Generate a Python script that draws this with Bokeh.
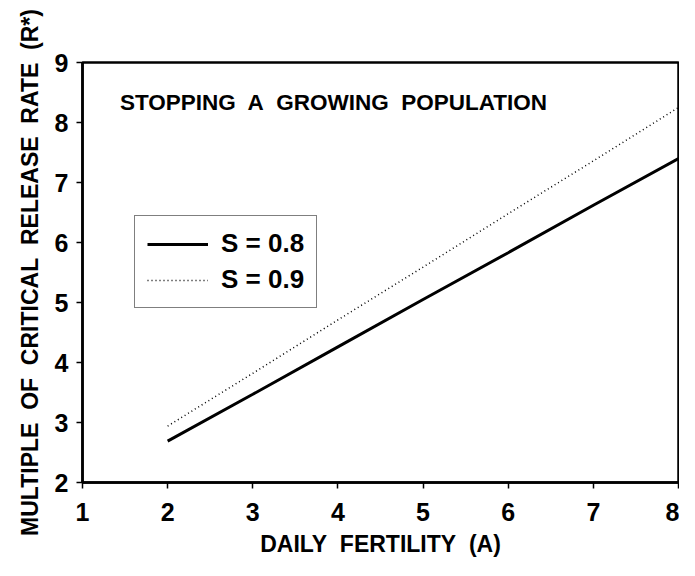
from bokeh.plotting import figure
from bokeh.models import Range1d, FixedTicker, Legend, LegendItem, Label
from bokeh.embed import file_html
from bokeh.resources import INLINE

fertility = [2, 3, 4, 5, 6, 7, 8]
r_s08 = [2.69, 3.47, 4.26, 5.05, 5.83, 6.62, 7.40]
r_s09 = [2.94, 3.82, 4.71, 5.59, 6.48, 7.36, 8.25]
x_ticks = [1, 2, 3, 4, 5, 6, 7, 8]
y_ticks = [2, 3, 4, 5, 6, 7, 8, 9]
SP = "\u00a0 "  # wide word gap as in the original
title_text = SP.join(["STOPPING", "A", "GROWING", "POPULATION"])
x_label = SP.join(["DAILY", "FERTILITY", "(A)"])
y_label = SP.join(["MULTIPLE", "OF", "CRITICAL", "RELEASE", "RATE", "(R*)"])
series_names = ["S = 0.8", "S = 0.9"]

FONT = "Liberation Sans"

p = figure(width=679, height=560, output_backend="svg", toolbar_location=None,
           x_range=Range1d(1, 8), y_range=Range1d(2, 9),
           min_border_left=82, min_border_right=1, min_border_top=62, min_border_bottom=78)
p.grid.visible = False
p.background_fill_color = "white"
p.border_fill_color = "white"
p.outline_line_color = "black"
p.outline_line_width = 2.5

for ax in (p.xaxis[0], p.yaxis[0]):
    ax.major_label_text_font = FONT
    ax.major_label_text_font_style = "bold"
    ax.major_label_text_font_size = "25px"
    ax.major_label_text_color = "black"
    ax.axis_label_text_font = FONT
    ax.axis_label_text_font_style = "bold"
    ax.axis_label_text_font_size = "23px"
    ax.axis_label_text_color = "black"
    ax.axis_line_color = "black"
    ax.axis_line_width = 2.5
    ax.major_tick_line_color = "black"
    ax.major_tick_line_width = 1.5
    ax.major_tick_out = 6
    ax.major_tick_in = 0
    ax.minor_tick_line_color = None

p.xaxis[0].ticker = FixedTicker(ticks=x_ticks)
p.yaxis[0].ticker = FixedTicker(ticks=y_ticks)
p.xaxis[0].axis_label = x_label
p.xaxis[0].major_label_standoff = 14
p.xaxis[0].axis_label_standoff = 7
p.yaxis[0].major_label_standoff = 8
p.yaxis[0].axis_label = y_label
p.yaxis[0].axis_label_standoff = 9

r1 = p.line(fertility, r_s08, line_color="black", line_width=3)
r2 = p.line(fertility, r_s09, line_color="black", line_width=1.5, line_dash="1 3")

legend = Legend(items=[LegendItem(label=series_names[0], renderers=[r1]),
                       LegendItem(label=series_names[1], renderers=[r2])],
                location=(52, 174), margin=0, padding=12,
                glyph_width=61, glyph_height=26, label_height=26, label_standoff=13,
                spacing=5, border_line_color="black", border_line_width=1.5,
                label_text_font=FONT, label_text_font_style="bold",
                label_text_font_size="26px", label_text_color="black",
                background_fill_alpha=1)
p.add_layout(legend, "center")

title = Label(x=1.44, y=8.34, text=title_text, text_font=FONT, text_font_style="bold",
              text_font_size="22.5px", text_color="black", text_baseline="middle")
p.add_layout(title)

open("out.html", "w").write(file_html(p, INLINE))
